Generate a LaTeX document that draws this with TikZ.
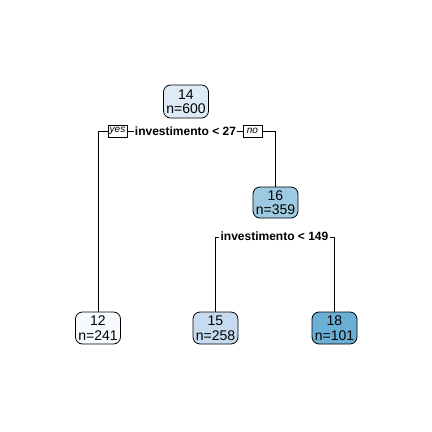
\documentclass[tikz,border=0pt]{standalone}
\usepackage{fontspec}
\setmainfont{Liberation Sans}
\begin{document}
\begin{tikzpicture}[x=1pt,y=-1pt,
  treenode/.style={draw=black, line width=0.8pt, rounded corners=7pt,
    minimum width=45pt, minimum height=33pt, inner sep=1pt, align=center,
    font=\fontsize{14}{14.5}\selectfont, text=black},
  splitlabel/.style={inner sep=1pt, font=\fontsize{12}{13}\selectfont\bfseries},
  branchtag/.style={draw=black, line width=0.6pt, minimum width=19pt,
    minimum height=12pt, inner sep=0pt, font=\fontsize{10}{10}\selectfont\itshape},
  edge/.style={draw=black, line width=0.8pt}]
\useasboundingbox (0,0) rectangle (432,432);
\fill[white] (0,0) rectangle (432,432);

\definecolor{c14}{HTML}{DEEBF7}
\definecolor{c16}{HTML}{9ECAE1}
\definecolor{c12}{HTML}{F7FBFF}
\definecolor{c15}{HTML}{C6DBEF}
\definecolor{c18}{HTML}{6BAED6}

% nodes of the tree
\node[treenode, fill=c14] (root) at (186,101.5) {14\\n=600};
\node[treenode, fill=c16, minimum height=31pt] (n16) at (275.5,202.5) {16\\n=359};
\node[treenode, fill=c12, minimum height=32pt] (l12) at (98,328) {12\\n=241};
\node[treenode, fill=c15, minimum height=32pt] (l15) at (215.5,328) {15\\n=258};
\node[treenode, fill=c18, minimum height=32pt] (l18) at (334.5,328) {18\\n=101};

% split labels
\node[splitlabel] (s1) at (185.5,131) {investimento < 27};
\node[branchtag] (yes) at (117.5,131) {yes};
\node[branchtag] (no) at (252.5,131) {no};
\node[splitlabel] (s2) at (274.5,236.5) {investimento < 149};

% first split
\draw[edge] (l12.north) -- (l12.north |- yes.west) -- (yes.west);
\draw[edge] (yes.east) -- (s1.west);
\draw[edge] (s1.east) -- (no.west);
\draw[edge] (no.east) -- (no.east -| n16.north) -- (n16.north);

% second split
\draw[edge] (l15.north) -- ([yshift=-1pt]l15.north |- s2.west) -- ([yshift=-1pt]s2.west);
\draw[edge] ([yshift=-1pt]s2.east) -- ([yshift=-1pt]s2.east -| l18.north) -- (l18.north);
\end{tikzpicture}
\end{document}
